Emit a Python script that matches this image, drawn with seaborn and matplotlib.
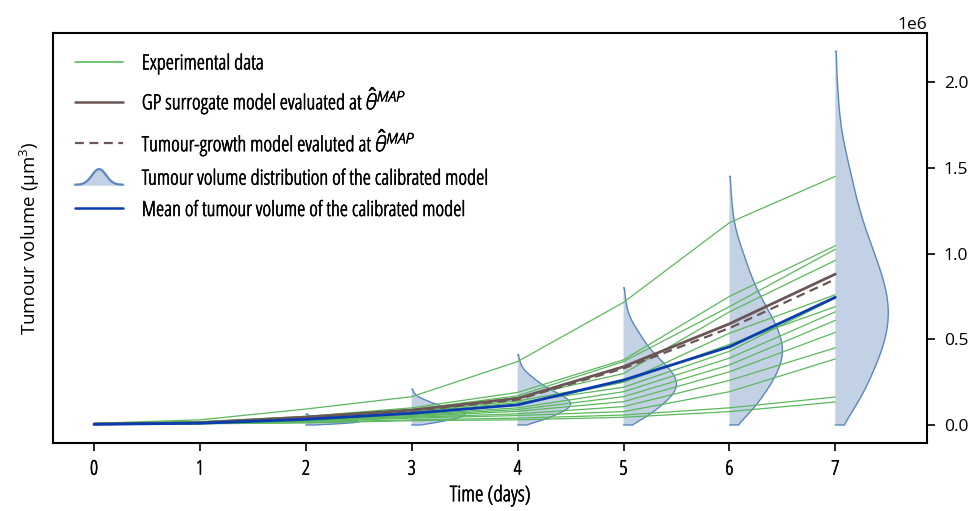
import numpy as np
import pandas as pd
import matplotlib
matplotlib.use("Agg")
import matplotlib.pyplot as plt
import matplotlib.patheffects as pe
import seaborn as sns
from matplotlib.lines import Line2D
from matplotlib.patches import Polygon
from matplotlib.legend_handler import HandlerBase

# ---------------- data (volumes in units of 1e6 um^3) ----------------
days = [0, 1, 2, 3, 4, 5, 6, 7]

exp_L1 = [0.010, 0.030, 0.093, 0.165, 0.370, 0.715, 1.180, 1.450]
exp_L2 = [0.010, 0.020, 0.050, 0.100, 0.190, 0.380, 0.750, 1.045]
exp_L3 = [0.008, 0.018, 0.045, 0.090, 0.170, 0.370, 0.690, 1.025]
exp_L4 = [0.008, 0.017, 0.042, 0.085, 0.160, 0.300, 0.660, 0.960]
exp_L5 = [0.007, 0.016, 0.038, 0.078, 0.140, 0.250, 0.535, 0.760]
exp_L6 = [0.007, 0.015, 0.035, 0.072, 0.130, 0.220, 0.430, 0.740]
exp_L7 = [0.006, 0.014, 0.032, 0.065, 0.120, 0.250, 0.470, 0.690]
exp_L8 = [0.006, 0.013, 0.030, 0.060, 0.100, 0.194, 0.390, 0.660]
exp_L9 = [0.005, 0.012, 0.028, 0.055, 0.090, 0.165, 0.350, 0.610]
exp_L10 = [0.005, 0.011, 0.025, 0.050, 0.080, 0.136, 0.310, 0.540]
exp_L11 = [0.005, 0.010, 0.022, 0.045, 0.065, 0.107, 0.260, 0.450]
exp_L12 = [0.004, 0.009, 0.020, 0.040, 0.055, 0.078, 0.194, 0.385]
exp_L13 = [0.004, 0.008, 0.015, 0.030, 0.040, 0.058, 0.100, 0.163]
exp_L14 = [0.004, 0.007, 0.012, 0.025, 0.030, 0.045, 0.078, 0.134]
experimental = [exp_L1, exp_L2, exp_L3, exp_L4, exp_L5, exp_L6, exp_L7,
                exp_L8, exp_L9, exp_L10, exp_L11, exp_L12, exp_L13, exp_L14]

gp_surrogate = [0.005, 0.013, 0.046, 0.087, 0.155, 0.340, 0.590, 0.880]
tumour_model = [0.005, 0.012, 0.044, 0.082, 0.148, 0.330, 0.565, 0.850]
calib_mean = [0.004, 0.010, 0.033, 0.068, 0.117, 0.262, 0.456, 0.745]

# calibrated-model volume distributions: per day, the largest sampled volume,
# and a shared histogram profile (counts in 22 equal bins from 0 to that max)
violin_days = [2, 3, 4, 5, 6, 7]
dist_max = [0.065, 0.210, 0.410, 0.800, 1.450, 2.180]
profile_counts = [1, 23, 27, 34, 42, 47, 51, 51, 48, 43, 37, 31,
                  25, 21, 17, 14, 10, 6, 4, 3, 2, 1, 1]

x_ticks = [0, 1, 2, 3, 4, 5, 6, 7]
y_ticks = [0.0, 0.5, 1.0, 1.5, 2.0]

legend_labels = [
    "Experimental data",
    r"GP surrogate model evaluated at $\hat{\theta}^{MAP}$",
    r"Tumour-growth model evaluted at $\hat{\theta}^{MAP}$",
    "Tumour volume distribution of the calibrated model",
    "Mean of tumour volume of the calibrated model",
]

# ---------------- styling ----------------
SCALE = 1e6
GREEN = "#5cb85c"
BROWN = "#6b5555"
BLUE = "#0a3cb0"
VFILL = "#c2d1e4"
VEDGE = "#5b86c0"
FONT = "Open Sans"
BOLDEN = [pe.withStroke(linewidth=0.45, foreground="black")]

sns.set_theme(style="white")
plt.rcParams["font.family"] = [FONT, "DejaVu Sans"]
plt.rcParams["font.stretch"] = "normal"
plt.rcParams["mathtext.fontset"] = "custom"
plt.rcParams["mathtext.rm"] = "Open Sans"
plt.rcParams["mathtext.it"] = "Open Sans:italic:light"
plt.rcParams["mathtext.bf"] = "Open Sans:bold"
for key in ("text.color", "axes.labelcolor", "xtick.color", "ytick.color"):
    plt.rcParams[key] = "black"

fig = plt.figure(figsize=(9.75, 5.11), dpi=100)
ax = fig.add_axes([0.0544, 0.1331, 0.8964, 0.8023])

# ---------------- violins (right halves) ----------------
rows = []
for d, vmax in zip(violin_days, dist_max):
    grid = np.linspace(0.0, vmax, len(profile_counts))
    vals = np.repeat(grid, profile_counts)
    rows.append(pd.DataFrame({"day": d, "volume": vals * SCALE, "side": "model"}))
vdf = pd.concat(rows, ignore_index=True)

n_before = len(ax.collections)
sns.violinplot(data=vdf, x="day", y="volume", hue="side",
               hue_order=["_empty", "model"],
               palette={"_empty": VFILL, "model": VFILL},
               native_scale=True, split=True, dodge=False, inner=None, cut=0,
               density_norm="width", common_norm=False, width=0.5,
               linewidth=0, saturation=1, legend=False, ax=ax)
new_colls = ax.collections[n_before:]
for coll, d in zip(new_colls, violin_days):
    verts = []
    for path in coll.get_paths():
        v = np.array(path.vertices, dtype=float)
        v[:, 0] += d - v[:, 0].min()        # anchor the flat side on the day
        verts.append(v)
    coll.set_verts(verts)
    coll.set_facecolor(VFILL)
    coll.set_edgecolor("none")
    coll.set_zorder(1)
    for v in verts:
        base = v[:, 0].min()
        curve = v[v[:, 0] > base + 1e-9]
        curve = curve[np.argsort(curve[:, 1], kind="stable")]
        curve = np.vstack([[base, curve[0, 1]], curve, [base, curve[-1, 1]]])
        ax.plot(curve[:, 0], curve[:, 1], color=VEDGE, lw=1.0, zorder=1.5)

# ---------------- lines ----------------
exp_df = pd.DataFrame({
    "day": np.tile(days, len(experimental)),
    "volume": np.concatenate([np.asarray(s) * SCALE for s in experimental]),
    "mouse": np.repeat(np.arange(len(experimental)), len(days)),
})
sns.lineplot(data=exp_df, x="day", y="volume", units="mouse", estimator=None,
             color=GREEN, lw=0.9, ax=ax, zorder=2)
sns.lineplot(x=days, y=np.asarray(gp_surrogate) * SCALE, color=BROWN, lw=2.0,
             ax=ax, zorder=3)
sns.lineplot(x=days, y=np.asarray(tumour_model) * SCALE, color=BROWN, lw=1.6,
             ax=ax, zorder=3)
ax.lines[-1].set_dashes([4, 2.5])
sns.lineplot(x=days, y=np.asarray(calib_mean) * SCALE, color=BLUE, lw=2.0,
             ax=ax, zorder=4)

# ---------------- axes ----------------
ax.set_xlim(-0.387, 7.866)
ax.set_ylim(-0.105 * SCALE, 2.286 * SCALE)
ax.set_xticks(x_ticks)
ax.set_xticklabels([str(t) for t in x_ticks], fontsize=14.5,
                   fontstretch="condensed", path_effects=BOLDEN)
ax.yaxis.tick_right()
ax.yaxis.set_label_position("left")
ax.set_yticks([t * SCALE for t in y_ticks])
ax.ticklabel_format(axis="y", style="sci", scilimits=(0, 0))
ax.tick_params(axis="both", direction="out", length=6, width=1.2, colors="black",
               pad=6)
ax.tick_params(axis="x", bottom=True)
ax.tick_params(axis="y", labelsize=12.5, right=True, left=False)
off = ax.yaxis.get_offset_text()
off.set_fontsize(12.5)
ax.set_xlabel("Time (days)", fontsize=15.5, fontstretch="condensed", labelpad=4,
              path_effects=BOLDEN)
ax.set_ylabel("Tumour volume (μm$^3$)", fontsize=13.5, labelpad=8)
for sp in ax.spines.values():
    sp.set_visible(True)
    sp.set_color("black")
    sp.set_linewidth(1.5)
ax.grid(False)

# ---------------- legend ----------------
class BellHandle:
    pass


class HandlerBell(HandlerBase):
    def create_artists(self, legend, orig_handle, xdescent, ydescent, width,
                       height, fontsize, trans):
        t = np.linspace(-1, 1, 80)
        prof = 0.06 + 0.94 * np.exp(-(t / 0.42) ** 2)
        xs = -xdescent + (t + 1) / 2 * width
        ys = -ydescent + prof * height
        poly = Polygon(np.column_stack([np.r_[xs, xs[-1], xs[0]],
                                        np.r_[ys, -ydescent, -ydescent]]),
                       closed=True, facecolor=VFILL, edgecolor="none",
                       transform=trans)
        line = Line2D(xs, ys, color=VEDGE, lw=1.6, transform=trans)
        return [poly, line]


handles = [
    Line2D([], [], color=GREEN, lw=1.2),
    Line2D([], [], color=BROWN, lw=1.8),
    Line2D([], [], color=BROWN, lw=1.6, dashes=[4, 2.5]),
    BellHandle(),
    Line2D([], [], color=BLUE, lw=1.8),
]
leg = ax.legend(handles, legend_labels, handler_map={BellHandle: HandlerBell()},
                loc="upper left", bbox_to_anchor=(0.0, 1.003), frameon=False,
                prop={"family": FONT, "stretch": "condensed", "size": 15},
                handlelength=2.3, handleheight=0.85, handletextpad=0.9,
                labelspacing=0.52, borderaxespad=0.66)
for txt in leg.get_texts():
    txt.set_path_effects(BOLDEN)

fig.savefig("out.png", dpi=100)
